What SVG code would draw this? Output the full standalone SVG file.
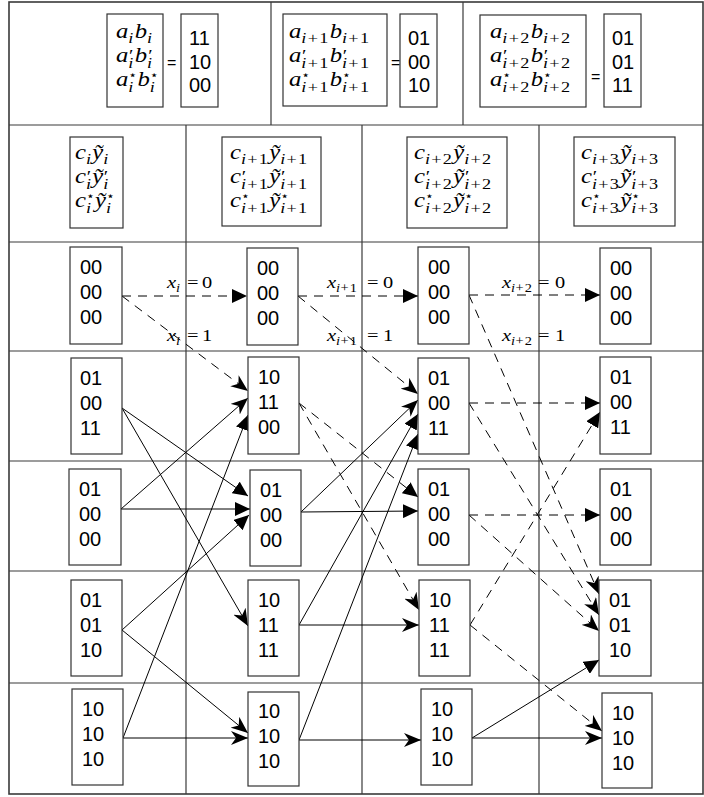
<svg xmlns="http://www.w3.org/2000/svg" width="704" height="797" viewBox="0 0 704 797">
<style>
.grid{stroke:#3a3a3a;stroke-width:1.2;fill:none}
.box{stroke:#333;stroke-width:1.2;fill:#fff}
.d{font-family:"Liberation Sans",Arial,sans-serif;font-size:20px;fill:#000}
.eq{font-family:"Liberation Sans",Arial,sans-serif;font-size:16px;fill:#000}
.m{font-family:"Liberation Serif","DejaVu Serif",serif;font-size:21px;font-style:italic;fill:#000}
.l{font-family:"Liberation Serif","DejaVu Serif",serif;font-size:17px;font-style:italic;fill:#000}
.s{font-size:15.5px}
.s2{font-size:12px}
.u{font-style:normal}
.pr{font-size:17px;font-style:normal}
.st{font-family:"DejaVu Sans",sans-serif;font-size:12px;font-style:normal}
.e{stroke:#000;stroke-width:1;fill:none}
.dash{stroke-dasharray:9 7}
.t{marker-end:url(#tri)}
.k{marker-end:url(#stl)}
</style>
<defs>
<marker id="tri" markerUnits="userSpaceOnUse" viewBox="0 0 15 14" markerWidth="15" markerHeight="14" refX="15" refY="7" orient="auto"><path d="M0,0 L15,7 L0,14 Z" fill="#000"/></marker>
<marker id="stl" markerUnits="userSpaceOnUse" viewBox="0 0 17 14" markerWidth="17" markerHeight="14" refX="17" refY="7" orient="auto"><path d="M0,0 L17,7 L0,14 L5,7 Z" fill="#000"/></marker>
</defs>
<rect x="0" y="0" width="704" height="797" fill="#fff"/>
<g id="grid" class="grid">
<rect x="9" y="2" width="694" height="792" stroke-width="1.6"/>
<line x1="9" y1="125" x2="703" y2="125"/>
<line x1="271" y1="2" x2="271" y2="125"/>
<line x1="463" y1="2" x2="463" y2="125"/>
<line x1="9" y1="242" x2="703" y2="242"/>
<line x1="9" y1="351" x2="703" y2="351"/>
<line x1="9" y1="461" x2="703" y2="461"/>
<line x1="9" y1="571" x2="703" y2="571"/>
<line x1="9" y1="683" x2="703" y2="683"/>
<line x1="186" y1="125" x2="186" y2="794"/>
<line x1="362" y1="125" x2="362" y2="794"/>
<line x1="539" y1="125" x2="539" y2="794"/>
</g>
<g id="connectors">
<path class="e dash t" d="M122,296 L247,296"/>
<path class="e dash k" d="M122,296 L248,391"/>
<path class="e t" d="M122,408 L248,496"/>
<path class="e k" d="M122,408 L248,626"/>
<path class="e k" d="M121,509 L248,398"/>
<path class="e t" d="M121,509 L250,509"/>
<path class="e t" d="M122,630 L249,515"/>
<path class="e k" d="M122,630 L248,733"/>
<path class="e t" d="M123,738 L248,415"/>
<path class="e k" d="M123,738 L248,738"/>
<path class="e dash t" d="M298,296 L418,296"/>
<path class="e dash k" d="M298,296 L418,394"/>
<path class="e dash t" d="M299,403 L418,497"/>
<path class="e dash k" d="M299,403 L419,610"/>
<path class="e k" d="M301,512 L418,400"/>
<path class="e t" d="M301,512 L418,511"/>
<path class="e t" d="M299,625 L418,414"/>
<path class="e k" d="M299,625 L419,625"/>
<path class="e t" d="M299,740 L418,434"/>
<path class="e k" d="M299,740 L421,740"/>
<path class="e dash t" d="M469,295 L600,295"/>
<path class="e dash k" d="M469,295 L599,594"/>
<path class="e dash t" d="M469,403 L600,403"/>
<path class="e dash k" d="M469,403 L599,615"/>
<path class="e dash t" d="M469,515 L600,515"/>
<path class="e dash k" d="M469,515 L599,631"/>
<path class="e dash t" d="M470,625 L600,412"/>
<path class="e dash k" d="M470,625 L602,731"/>
<path class="e t" d="M472,738 L599,660"/>
<path class="e k" d="M472,738 L602,738"/>
</g>
<g id="labels">
<text class="l" transform="translate(167,288) scale(1.2,1)"><tspan x="0" y="0">x</tspan><tspan class="s2" x="7.5" y="4">i</tspan><tspan class="u" x="16.7" y="0">=</tspan><tspan class="u" x="29.2" y="0">0</tspan></text>
<text class="l" transform="translate(167,341) scale(1.2,1)"><tspan x="0" y="0">x</tspan><tspan class="s2" x="7.5" y="4">i</tspan><tspan class="u" x="16.7" y="0">=</tspan><tspan class="u" x="29.2" y="0">1</tspan></text>
<text class="l" transform="translate(327,288) scale(1.2,1)"><tspan x="0" y="0">x</tspan><tspan class="s2" x="7.5" y="4">i</tspan><tspan class="s2 u" x="11.3" y="4">+</tspan><tspan class="s2 u" x="18.9" y="4">1</tspan><tspan class="u" x="33.3" y="0">=</tspan><tspan class="u" x="46.7" y="0">0</tspan></text>
<text class="l" transform="translate(327,341) scale(1.2,1)"><tspan x="0" y="0">x</tspan><tspan class="s2" x="7.5" y="4">i</tspan><tspan class="s2 u" x="11.3" y="4">+</tspan><tspan class="s2 u" x="18.9" y="4">1</tspan><tspan class="u" x="33.3" y="0">=</tspan><tspan class="u" x="46.7" y="0">1</tspan></text>
<text class="l" transform="translate(502,288) scale(1.2,1)"><tspan x="0" y="0">x</tspan><tspan class="s2" x="7.5" y="4">i</tspan><tspan class="s2 u" x="11.3" y="4">+</tspan><tspan class="s2 u" x="18.9" y="4">2</tspan><tspan class="u" x="30" y="0">=</tspan><tspan class="u" x="44.2" y="0">0</tspan></text>
<text class="l" transform="translate(502,341) scale(1.2,1)"><tspan x="0" y="0">x</tspan><tspan class="s2" x="7.5" y="4">i</tspan><tspan class="s2 u" x="11.3" y="4">+</tspan><tspan class="s2 u" x="18.9" y="4">2</tspan><tspan class="u" x="30" y="0">=</tspan><tspan class="u" x="44.2" y="0">1</tspan></text>
</g>
<g id="top1">
<rect class="box" x="107" y="14" width="56" height="93"/>
<text class="m" transform="translate(116,38) scale(1.176,1)"><tspan x="0" y="0">a</tspan><tspan class="s" x="10.5" y="5">i</tspan><tspan x="15.9" y="0">b</tspan><tspan class="s" x="26.4" y="5">i</tspan></text>
<text class="m" transform="translate(116,62) scale(1.176,1)"><tspan x="0" y="0">a</tspan><tspan class="pr" x="11" y="-1">′</tspan><tspan class="s" x="10.5" y="5.5">i</tspan><tspan x="15.9" y="0">b</tspan><tspan class="pr" x="27.5" y="-1">′</tspan><tspan class="s" x="26.4" y="5.5">i</tspan></text>
<text class="m" transform="translate(116,86) scale(1.176,1)"><tspan x="0" y="0">a</tspan><tspan class="st" x="10.5" y="-6.6">⋆</tspan><tspan class="s" x="10.5" y="5.5">i</tspan><tspan x="18.2" y="0">b</tspan><tspan class="st" x="28.7" y="-6.6">⋆</tspan><tspan class="s" x="28.7" y="5.5">i</tspan></text>
<text class="eq" x="167" y="68">=</text>
<rect class="box" x="181" y="14" width="37" height="93"/>
<text class="d" x="189" y="45">11</text>
<text class="d" x="189" y="69">10</text>
<text class="d" x="189" y="92">00</text>
</g>
<g id="top2">
<rect class="box" x="283" y="14" width="104" height="92"/>
<text class="m" transform="translate(289,38) scale(1.176,1)"><tspan x="0" y="0">a</tspan><tspan class="s" x="10.5" y="5">i</tspan><tspan class="s u" x="15.9" y="5">+</tspan><tspan class="s u" x="25.7" y="5">1</tspan><tspan x="34.6" y="0">b</tspan><tspan class="s" x="45.1" y="5">i</tspan><tspan class="s u" x="50.5" y="5">+</tspan><tspan class="s u" x="60.3" y="5">1</tspan></text>
<text class="m" transform="translate(289,62) scale(1.176,1)"><tspan x="0" y="0">a</tspan><tspan class="pr" x="11" y="-1">′</tspan><tspan class="s" x="10.5" y="5.5">i</tspan><tspan class="s u" x="15.9" y="5.5">+</tspan><tspan class="s u" x="25.7" y="5.5">1</tspan><tspan x="34.6" y="0">b</tspan><tspan class="pr" x="45.7" y="-1">′</tspan><tspan class="s" x="45.1" y="5.5">i</tspan><tspan class="s u" x="50.5" y="5.5">+</tspan><tspan class="s u" x="60.3" y="5.5">1</tspan></text>
<text class="m" transform="translate(289,86) scale(1.176,1)"><tspan x="0" y="0">a</tspan><tspan class="st" x="10.5" y="-6.6">⋆</tspan><tspan class="s" x="10.5" y="5.5">i</tspan><tspan class="s u" x="15.9" y="5.5">+</tspan><tspan class="s u" x="25.7" y="5.5">1</tspan><tspan x="34.6" y="0">b</tspan><tspan class="st" x="45.1" y="-6.6">⋆</tspan><tspan class="s" x="45.1" y="5.5">i</tspan><tspan class="s u" x="50.5" y="5.5">+</tspan><tspan class="s u" x="60.3" y="5.5">1</tspan></text>
<text class="eq" x="391" y="68">=</text>
<rect class="box" x="400" y="14" width="37" height="93"/>
<text class="d" x="408" y="45">01</text>
<text class="d" x="408" y="69">00</text>
<text class="d" x="408" y="92">10</text>
</g>
<g id="top3">
<rect class="box" x="480" y="15" width="106" height="92"/>
<text class="m" transform="translate(490,38) scale(1.176,1)"><tspan x="0" y="0">a</tspan><tspan class="s" x="10.5" y="5">i</tspan><tspan class="s u" x="15.9" y="5">+</tspan><tspan class="s u" x="25.7" y="5">2</tspan><tspan x="34.6" y="0">b</tspan><tspan class="s" x="45.1" y="5">i</tspan><tspan class="s u" x="50.5" y="5">+</tspan><tspan class="s u" x="60.3" y="5">2</tspan></text>
<text class="m" transform="translate(490,62) scale(1.176,1)"><tspan x="0" y="0">a</tspan><tspan class="pr" x="11" y="-1">′</tspan><tspan class="s" x="10.5" y="5.5">i</tspan><tspan class="s u" x="15.9" y="5.5">+</tspan><tspan class="s u" x="25.7" y="5.5">2</tspan><tspan x="34.6" y="0">b</tspan><tspan class="pr" x="45.7" y="-1">′</tspan><tspan class="s" x="45.1" y="5.5">i</tspan><tspan class="s u" x="50.5" y="5.5">+</tspan><tspan class="s u" x="60.3" y="5.5">2</tspan></text>
<text class="m" transform="translate(490,86) scale(1.176,1)"><tspan x="0" y="0">a</tspan><tspan class="st" x="10.5" y="-6.6">⋆</tspan><tspan class="s" x="10.5" y="5.5">i</tspan><tspan class="s u" x="15.9" y="5.5">+</tspan><tspan class="s u" x="25.7" y="5.5">2</tspan><tspan x="34.6" y="0">b</tspan><tspan class="st" x="45.1" y="-6.6">⋆</tspan><tspan class="s" x="45.1" y="5.5">i</tspan><tspan class="s u" x="50.5" y="5.5">+</tspan><tspan class="s u" x="60.3" y="5.5">2</tspan></text>
<text class="eq" x="591" y="82">=</text>
<rect class="box" x="604" y="14" width="37" height="93"/>
<text class="d" x="612" y="45">01</text>
<text class="d" x="612" y="69">01</text>
<text class="d" x="612" y="92">11</text>
</g>
<g id="c0">
<rect class="box" x="70" y="137" width="53" height="91"/>
<text class="m" transform="translate(75,159) scale(1.176,1)"><tspan x="0" y="0">c</tspan><tspan class="s" x="9.3" y="5">i</tspan><tspan x="14.7" y="0">ỹ</tspan><tspan class="s" x="24" y="5">i</tspan></text>
<text class="m" transform="translate(75,183) scale(1.176,1)"><tspan x="0" y="0">c</tspan><tspan class="pr" x="10" y="-1">′</tspan><tspan class="s" x="9.3" y="5.5">i</tspan><tspan x="14.7" y="0">ỹ</tspan><tspan class="pr" x="24.5" y="-1">′</tspan><tspan class="s" x="24" y="5.5">i</tspan></text>
<text class="m" transform="translate(75,207) scale(1.176,1)"><tspan x="0" y="0">c</tspan><tspan class="st" x="9.3" y="-6.6">⋆</tspan><tspan class="s" x="9.3" y="5.5">i</tspan><tspan x="17" y="0">ỹ</tspan><tspan class="st" x="26.3" y="-6.6">⋆</tspan><tspan class="s" x="26.3" y="5.5">i</tspan></text>
</g>
<g id="c1">
<rect class="box" x="222" y="137" width="99" height="89"/>
<text class="m" transform="translate(230,159) scale(1.176,1)"><tspan x="0" y="0">c</tspan><tspan class="s" x="9.3" y="5">i</tspan><tspan class="s u" x="14.7" y="5">+</tspan><tspan class="s u" x="24.5" y="5">1</tspan><tspan x="33.4" y="0">ỹ</tspan><tspan class="s" x="42.7" y="5">i</tspan><tspan class="s u" x="48.1" y="5">+</tspan><tspan class="s u" x="57.9" y="5">1</tspan></text>
<text class="m" transform="translate(230,183) scale(1.176,1)"><tspan x="0" y="0">c</tspan><tspan class="pr" x="10" y="-1">′</tspan><tspan class="s" x="9.3" y="5.5">i</tspan><tspan class="s u" x="14.7" y="5.5">+</tspan><tspan class="s u" x="24.5" y="5.5">1</tspan><tspan x="33.4" y="0">ỹ</tspan><tspan class="pr" x="43.3" y="-1">′</tspan><tspan class="s" x="42.7" y="5.5">i</tspan><tspan class="s u" x="48.1" y="5.5">+</tspan><tspan class="s u" x="57.9" y="5.5">1</tspan></text>
<text class="m" transform="translate(230,207) scale(1.176,1)"><tspan x="0" y="0">c</tspan><tspan class="st" x="9.3" y="-6.6">⋆</tspan><tspan class="s" x="9.3" y="5.5">i</tspan><tspan class="s u" x="14.7" y="5.5">+</tspan><tspan class="s u" x="24.5" y="5.5">1</tspan><tspan x="33.4" y="0">ỹ</tspan><tspan class="st" x="42.7" y="-6.6">⋆</tspan><tspan class="s" x="42.7" y="5.5">i</tspan><tspan class="s u" x="48.1" y="5.5">+</tspan><tspan class="s u" x="57.9" y="5.5">1</tspan></text>
</g>
<g id="c2">
<rect class="box" x="407" y="137" width="100" height="91"/>
<text class="m" transform="translate(414,159) scale(1.176,1)"><tspan x="0" y="0">c</tspan><tspan class="s" x="9.3" y="5">i</tspan><tspan class="s u" x="14.7" y="5">+</tspan><tspan class="s u" x="24.5" y="5">2</tspan><tspan x="33.4" y="0">ỹ</tspan><tspan class="s" x="42.7" y="5">i</tspan><tspan class="s u" x="48.1" y="5">+</tspan><tspan class="s u" x="57.9" y="5">2</tspan></text>
<text class="m" transform="translate(414,183) scale(1.176,1)"><tspan x="0" y="0">c</tspan><tspan class="pr" x="10" y="-1">′</tspan><tspan class="s" x="9.3" y="5.5">i</tspan><tspan class="s u" x="14.7" y="5.5">+</tspan><tspan class="s u" x="24.5" y="5.5">2</tspan><tspan x="33.4" y="0">ỹ</tspan><tspan class="pr" x="43.3" y="-1">′</tspan><tspan class="s" x="42.7" y="5.5">i</tspan><tspan class="s u" x="48.1" y="5.5">+</tspan><tspan class="s u" x="57.9" y="5.5">2</tspan></text>
<text class="m" transform="translate(414,207) scale(1.176,1)"><tspan x="0" y="0">c</tspan><tspan class="st" x="9.3" y="-6.6">⋆</tspan><tspan class="s" x="9.3" y="5.5">i</tspan><tspan class="s u" x="14.7" y="5.5">+</tspan><tspan class="s u" x="24.5" y="5.5">2</tspan><tspan x="33.4" y="0">ỹ</tspan><tspan class="st" x="42.7" y="-6.6">⋆</tspan><tspan class="s" x="42.7" y="5.5">i</tspan><tspan class="s u" x="48.1" y="5.5">+</tspan><tspan class="s u" x="57.9" y="5.5">2</tspan></text>
</g>
<g id="c3">
<rect class="box" x="574" y="137" width="101" height="89"/>
<text class="m" transform="translate(581,159) scale(1.176,1)"><tspan x="0" y="0">c</tspan><tspan class="s" x="9.3" y="5">i</tspan><tspan class="s u" x="14.7" y="5">+</tspan><tspan class="s u" x="24.5" y="5">3</tspan><tspan x="33.4" y="0">ỹ</tspan><tspan class="s" x="42.7" y="5">i</tspan><tspan class="s u" x="48.1" y="5">+</tspan><tspan class="s u" x="57.9" y="5">3</tspan></text>
<text class="m" transform="translate(581,183) scale(1.176,1)"><tspan x="0" y="0">c</tspan><tspan class="pr" x="10" y="-1">′</tspan><tspan class="s" x="9.3" y="5.5">i</tspan><tspan class="s u" x="14.7" y="5.5">+</tspan><tspan class="s u" x="24.5" y="5.5">3</tspan><tspan x="33.4" y="0">ỹ</tspan><tspan class="pr" x="43.3" y="-1">′</tspan><tspan class="s" x="42.7" y="5.5">i</tspan><tspan class="s u" x="48.1" y="5.5">+</tspan><tspan class="s u" x="57.9" y="5.5">3</tspan></text>
<text class="m" transform="translate(581,207) scale(1.176,1)"><tspan x="0" y="0">c</tspan><tspan class="st" x="9.3" y="-6.6">⋆</tspan><tspan class="s" x="9.3" y="5.5">i</tspan><tspan class="s u" x="14.7" y="5.5">+</tspan><tspan class="s u" x="24.5" y="5.5">3</tspan><tspan x="33.4" y="0">ỹ</tspan><tspan class="st" x="42.7" y="-6.6">⋆</tspan><tspan class="s" x="42.7" y="5.5">i</tspan><tspan class="s u" x="48.1" y="5.5">+</tspan><tspan class="s u" x="57.9" y="5.5">3</tspan></text>
</g>
<g id="n1-0"><rect class="box" x="70" y="247" width="52" height="97"/><text class="d" x="80" y="274">00</text><text class="d" x="80" y="299">00</text><text class="d" x="80" y="324">00</text></g>
<g id="n2-0"><rect class="box" x="247" y="248" width="51" height="97"/><text class="d" x="257" y="275">00</text><text class="d" x="257" y="300">00</text><text class="d" x="257" y="325">00</text></g>
<g id="n3-0"><rect class="box" x="418" y="247" width="51" height="97"/><text class="d" x="428" y="274">00</text><text class="d" x="428" y="299">00</text><text class="d" x="428" y="324">00</text></g>
<g id="n4-0"><rect class="box" x="600" y="248" width="51" height="96"/><text class="d" x="610" y="275">00</text><text class="d" x="610" y="300">00</text><text class="d" x="610" y="325">00</text></g>
<g id="n1-1"><rect class="box" x="71" y="358" width="51" height="96"/><text class="d" x="80" y="385">01</text><text class="d" x="80" y="410">00</text><text class="d" x="80" y="435">11</text></g>
<g id="n2-1"><rect class="box" x="248" y="357" width="51" height="97"/><text class="d" x="258" y="384">10</text><text class="d" x="258" y="409">11</text><text class="d" x="258" y="434">00</text></g>
<g id="n3-1"><rect class="box" x="418" y="358" width="51" height="96"/><text class="d" x="428" y="385">01</text><text class="d" x="428" y="410">00</text><text class="d" x="428" y="435">11</text></g>
<g id="n4-1"><rect class="box" x="600" y="357" width="51" height="97"/><text class="d" x="610" y="384">01</text><text class="d" x="610" y="409">00</text><text class="d" x="610" y="434">11</text></g>
<g id="n1-2"><rect class="box" x="69" y="469" width="52" height="96"/><text class="d" x="79" y="496">01</text><text class="d" x="79" y="521">00</text><text class="d" x="79" y="546">00</text></g>
<g id="n2-2"><rect class="box" x="250" y="470" width="51" height="96"/><text class="d" x="260" y="497">01</text><text class="d" x="260" y="522">00</text><text class="d" x="260" y="547">00</text></g>
<g id="n3-2"><rect class="box" x="418" y="469" width="51" height="96"/><text class="d" x="428" y="496">01</text><text class="d" x="428" y="521">00</text><text class="d" x="428" y="546">00</text></g>
<g id="n4-2"><rect class="box" x="600" y="469" width="51" height="96"/><text class="d" x="610" y="496">01</text><text class="d" x="610" y="521">00</text><text class="d" x="610" y="546">00</text></g>
<g id="n1-3"><rect class="box" x="71" y="580" width="51" height="96"/><text class="d" x="80" y="607">01</text><text class="d" x="80" y="632">01</text><text class="d" x="80" y="657">10</text></g>
<g id="n2-3"><rect class="box" x="248" y="580" width="51" height="96"/><text class="d" x="258" y="607">10</text><text class="d" x="258" y="632">11</text><text class="d" x="258" y="657">11</text></g>
<g id="n3-3"><rect class="box" x="419" y="580" width="51" height="96"/><text class="d" x="429" y="607">10</text><text class="d" x="429" y="632">11</text><text class="d" x="429" y="657">11</text></g>
<g id="n4-3"><rect class="box" x="599" y="580" width="52" height="96"/><text class="d" x="609" y="607">01</text><text class="d" x="609" y="632">01</text><text class="d" x="609" y="657">10</text></g>
<g id="n1-4"><rect class="box" x="72" y="689" width="51" height="96"/><text class="d" x="82" y="716">10</text><text class="d" x="82" y="741">10</text><text class="d" x="82" y="766">10</text></g>
<g id="n2-4"><rect class="box" x="248" y="692" width="51" height="94"/><text class="d" x="258" y="718">10</text><text class="d" x="258" y="743">10</text><text class="d" x="258" y="768">10</text></g>
<g id="n3-4"><rect class="box" x="421" y="689" width="51" height="96"/><text class="d" x="431" y="716">10</text><text class="d" x="431" y="741">10</text><text class="d" x="431" y="766">10</text></g>
<g id="n4-4"><rect class="box" x="602" y="693" width="50" height="95"/><text class="d" x="612" y="720">10</text><text class="d" x="612" y="745">10</text><text class="d" x="612" y="770">10</text></g>
</svg>
